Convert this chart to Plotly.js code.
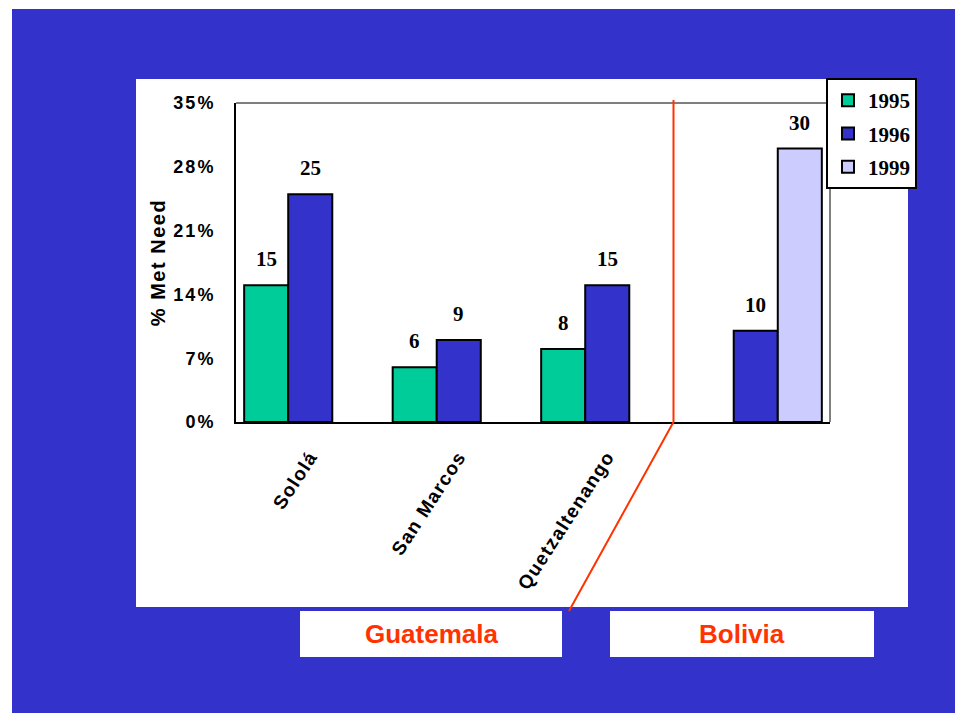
<!DOCTYPE html>
<html>
<head>
<meta charset="utf-8">
<script src="https://cdn.plot.ly/plotly-3.0.1.min.js"></script>
<style>
  html, body { margin: 0; padding: 0; background: #ffffff; }
  #chart { width: 955px; height: 713px; }
  .ytick text { letter-spacing: 2px; }
  .xtick text { letter-spacing: 1.3px; }
  .ytitle { letter-spacing: 1.5px; }
</style>
</head>
<body>
<div id="chart"></div>
<script>
// Share of contraceptive need met, by department / country and survey year
const categories = ['Sololá', 'San Marcos', 'Quetzaltenango', 'Bolivia'];
const departments = ['Sololá', 'San Marcos', 'Quetzaltenango'];
const years = ['1995', '1996', '1999'];
const met1995 = [15, 6, 8, null];
const met1996 = [25, 9, 15, 10];
const met1999 = [null, null, null, 30];
const yTickVals = [0, 7, 14, 21, 28, 35];
const yTickText = ['0%', '7%', '14%', '21%', '28%', '35%'];
const countries = ['Guatemala', 'Bolivia'];

const series = [met1995, met1996, met1999];
const colors = ['#00cc99', '#3333cc', '#ccccff'];

const W = 955, H = 713;
const M = { l: 236, r: 125, t: 103, b: 291 };
const PW = W - M.l - M.r, PH = H - M.t - M.b;
const fx = p => (p - M.l) / PW;          // pixel -> paper x
const fy = p => (H - M.b - p) / PH;      // pixel -> paper y

const bargap = 0.11;
const barW = (PW / categories.length) * (1 - bargap) / series.length;

const traces = series.map((vals, i) => ({
  type: 'bar',
  name: years[i],
  x: categories,
  y: vals,
  legendgroup: years[i],
  marker: { color: colors[i], line: { color: '#000000', width: 2 } },
  hoverinfo: 'x+y+name'
}));

// value labels above each bar
const valueLabels = [];
series.forEach((vals, i) => {
  vals.forEach((v, j) => {
    if (v === null) return;
    valueLabels.push({
      x: categories[j], y: v, xref: 'x', yref: 'y',
      xshift: (i - 1) * barW, yshift: 12,
      yanchor: 'bottom', showarrow: false,
      text: String(v),
      font: { family: 'Liberation Serif, Times New Roman, serif', size: 21, color: '#000000', weight: 'bold' }
    });
  });
});

const countryBoxes = [
  { x0: 300, x1: 562 },
  { x0: 610, x1: 874 }
];
const countryLabels = countries.map((c, k) => ({
  x: fx((countryBoxes[k].x0 + countryBoxes[k].x1) / 2), y: fy(634),
  xref: 'paper', yref: 'paper', showarrow: false,
  xanchor: 'center', yanchor: 'middle',
  text: c,
  font: { family: 'Liberation Sans, Arial, sans-serif', size: 26, color: '#ff3300', weight: 'bold' }
}));

const shapes = [
  // slide background
  { type: 'rect', xref: 'paper', yref: 'paper', x0: fx(12), x1: fx(W), y0: fy(H), y1: fy(9),
    fillcolor: '#3333cc', line: { width: 0 }, layer: 'below' },
  // white chart panel
  { type: 'rect', xref: 'paper', yref: 'paper', x0: fx(136), x1: fx(908), y0: fy(607), y1: fy(79),
    fillcolor: '#ffffff', line: { width: 0 }, layer: 'below' },
  // country name boxes
  ...countryBoxes.map(b => ({ type: 'rect', xref: 'paper', yref: 'paper', x0: fx(b.x0), x1: fx(b.x1),
    y0: fy(657), y1: fy(611), fillcolor: '#ffffff', line: { width: 0 }, layer: 'below' })),
  // thin top and right frame of the plot area
  { type: 'line', xref: 'paper', yref: 'paper', x0: 0, x1: 1, y0: 1, y1: 1, line: { color: '#000000', width: 1 } },
  { type: 'line', xref: 'paper', yref: 'paper', x0: 1, x1: 1, y0: 0, y1: 1, line: { color: '#000000', width: 1 } },
  // divider between Guatemala and Bolivia
  { type: 'path', xref: 'paper', yref: 'paper',
    path: `M ${fx(673.5)} ${fy(100)} L ${fx(673.5)} ${fy(422)} L ${fx(569)} ${fy(611)}`,
    line: { color: '#ff3300', width: 2 } }
];

const layout = {
  width: W, height: H,
  margin: { l: M.l, r: M.r, t: M.t, b: M.b, pad: 0 },
  paper_bgcolor: '#ffffff',
  plot_bgcolor: 'rgba(0,0,0,0)',
  barmode: 'group', bargap: bargap, bargroupgap: 0,
  showlegend: true,
  legend: {
    x: fx(826), y: fy(78), xanchor: 'left', yanchor: 'top',
    bgcolor: '#ffffff', bordercolor: '#000000', borderwidth: 2,
    traceorder: 'grouped', tracegroupgap: 3, itemwidth: 30,
    font: { family: 'Liberation Serif, Times New Roman, serif', size: 21, color: '#000000', weight: 'bold' }
  },
  xaxis: {
    type: 'category', categoryorder: 'array', categoryarray: categories,
    tickvals: departments, ticktext: departments,
    tickangle: -57, ticks: '', ticklabelstandoff: 14,
    showline: true, linecolor: '#000000', linewidth: 2,
    showgrid: false, zeroline: false, fixedrange: true,
    tickfont: { family: 'Liberation Sans, Arial, sans-serif', size: 19, color: '#000000', weight: 'bold' }
  },
  yaxis: {
    range: [0, 35], tickvals: yTickVals, ticktext: yTickText,
    ticks: '', ticklabelstandoff: 15,
    showline: true, linecolor: '#000000', linewidth: 2,
    showgrid: false, zeroline: false, fixedrange: true,
    tickfont: { family: 'Liberation Sans, Arial, sans-serif', size: 18, color: '#000000', weight: 'bold' },
    title: { text: '% Met Need', standoff: 2,
      font: { family: 'Liberation Sans, Arial, sans-serif', size: 20, color: '#000000', weight: 'bold' } }
  },
  shapes: shapes,
  annotations: valueLabels.concat(countryLabels)
};

Plotly.newPlot('chart', traces, layout, { displayModeBar: false, staticPlot: true });
</script>
</body>
</html>
